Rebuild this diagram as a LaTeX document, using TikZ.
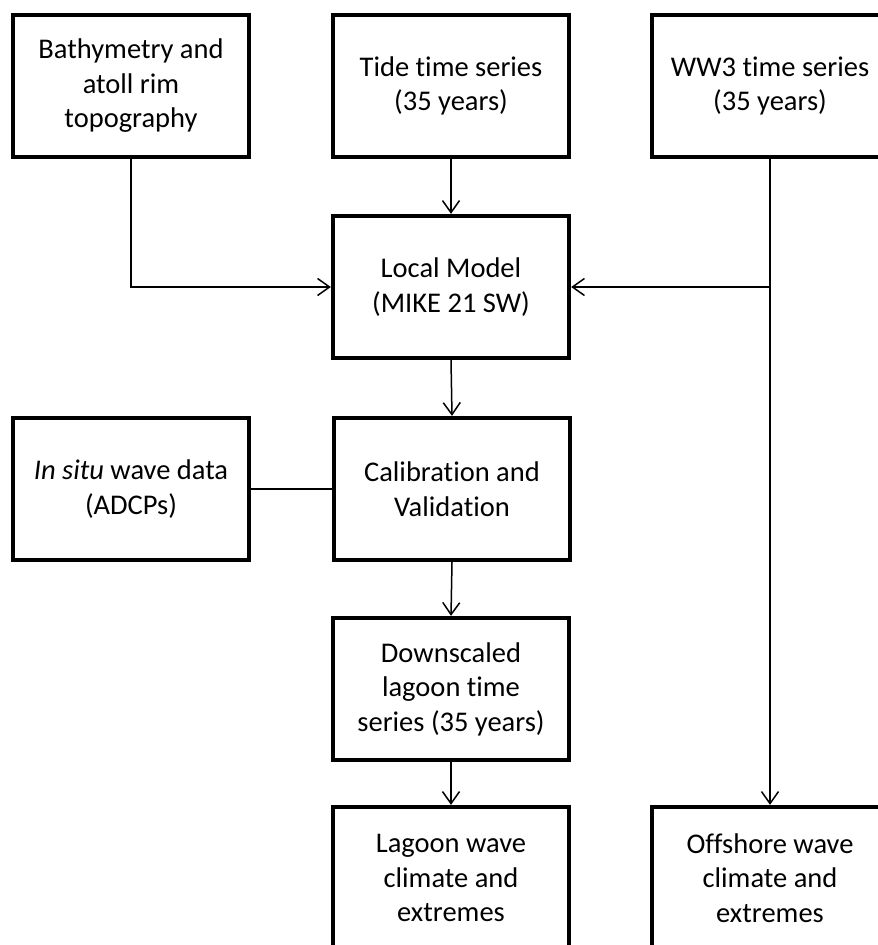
\documentclass[tikz,border=0pt]{standalone}
\usepackage{fontspec}
\setmainfont{Carlito}[Ligatures={NoCommon}]
\usetikzlibrary{arrows.meta}
\begin{document}
\begin{tikzpicture}[x=1pt,y=-1pt,
  box/.style={draw=black, line width=4.3pt, fill=white, minimum width=236pt, minimum height=142pt,
    inner sep=0pt, align=center, font=\fontsize{28.5}{34.5}\selectfont},
  conn/.style={draw=black, line width=1.5pt},
  arr/.style={conn, -{Straight Barb[length=12pt,width=17pt,line width=1.5pt]}}]
\clip (0,0) rectangle (878,945);
\fill[white] (0,0) rectangle (878,945);
\node[box] (bath) at (131,86) {Bathymetry and\\atoll rim\\topography};
\node[box] (tide) at (451,86) {Tide time series\\(35 years)};
\node[box] (ww3) at (770,86) {WW3 time series\\(35 years)};
\node[box] (local) at (451,287) {Local Model\\(MIKE 21 SW)};
\node[box] (calib) at (452,489) {Calibration and\\Validation};
\node[box] (insitu) at (131,489) {\textit{In situ} wave data\\(ADCPs)};
\node[box] (down) at (451,689) {Downscaled\\lagoon time\\series (35 years)};
\node[box] (lagoon) at (451,878) {Lagoon wave\\climate and\\extremes};
\node[box] (off) at (770,878) {Offshore wave\\climate and\\extremes};
\coordinate (br) at (ww3.south |- local.east);
\draw[arr] (bath.south) |- (local.west);
\draw[arr] (tide.south) -- (local.north);
\draw[arr] (ww3.south) -- (off.north);
\draw[arr] (br) -- (local.east);
\draw[arr] (local.south) -- (calib.north);
\draw[conn] (insitu.east) -- (calib.west);
\draw[arr] (calib.south) -- (down.north);
\draw[arr] (down.south) -- (lagoon.north);
\end{tikzpicture}
\end{document}
